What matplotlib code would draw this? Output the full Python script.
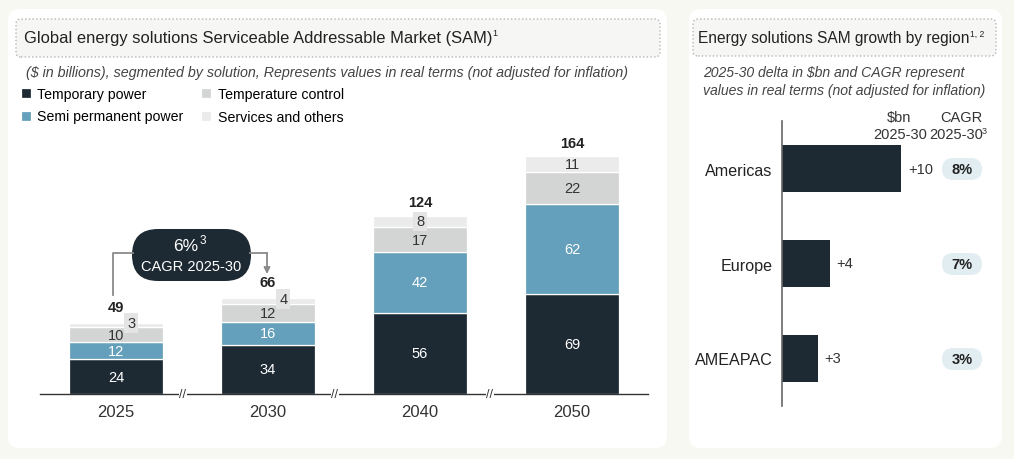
import matplotlib
matplotlib.use("Agg")
import matplotlib.pyplot as plt
from matplotlib.patches import FancyBboxPatch

plt.rcParams['font.family'] = ['Liberation Sans', 'DejaVu Sans']

# data
years = ["2025", "2030", "2040", "2050"]
temporary_power = [24, 34, 56, 69]
semi_permanent = [12, 16, 42, 62]
temperature_control = [10, 12, 17, 22]
services_others = [3, 4, 8, 11]
totals = [49, 66, 124, 164]

regions = ["Americas", "Europe", "AMEAPAC"]
delta_bn = [10, 4, 3]
cagr_region = ["8%", "7%", "3%"]

DARK = "#1e2a33"
BLUE = "#64a0bb"
GRAY = "#d3d5d5"
LIGHT = "#ebebeb"
TXT = "#222222"

W, H = 1014, 460
fig = plt.figure(figsize=(W / 100, H / 100), dpi=100)
fig.patch.set_facecolor("#f8f8f3")


def fx(x):
    return x / W


def fy(y):
    return 1 - y / H


# background layer in pixel units (y measured from top)
bg = fig.add_axes([0, 0, 1, 1], zorder=0)
bg.set_xlim(0, W)
bg.set_ylim(0, H)
bg.axis("off")


def rbox(ax, x0, y0, x1, y1, r, **kw):
    p = FancyBboxPatch((x0, H - y1), x1 - x0, y1 - y0,
                       boxstyle="round,pad=0,rounding_size=%s" % r, **kw)
    ax.add_patch(p)
    return p


rbox(bg, 8, 10, 667, 449, 12, facecolor="white", edgecolor="none")
rbox(bg, 689, 10, 1002, 449, 12, facecolor="white", edgecolor="none")
rbox(bg, 16, 20, 660, 58, 5, facecolor="#f6f6f4", edgecolor="#b5b5b5",
     linestyle=":", linewidth=1)
rbox(bg, 693, 20, 996, 57, 5, facecolor="#f6f6f4", edgecolor="#b5b5b5",
     linestyle=":", linewidth=1)

renderer = fig.canvas.get_renderer()


def title_with_sup(x, y, text, sup, size):
    t = fig.text(fx(x), fy(y), text, fontsize=size, color=TXT, va="center")
    bb = t.get_window_extent(renderer=renderer)
    fig.text(bb.x1 / W, fy(y - 5), sup, fontsize=size * 0.55,
             color=TXT, va="center")


title_with_sup(24, 39, "Global energy solutions Serviceable Addressable Market (SAM)", "1", 11.9)
title_with_sup(698, 39, "Energy solutions SAM growth by region", "1, 2", 11.2)

fig.text(fx(26), fy(73),
         "($ in billions), segmented by solution, Represents values in real terms (not adjusted for inflation)",
         fontsize=10.3, style="italic", color="#444444", va="center")
fig.text(fx(703), fy(73), "2025-30 delta in $bn and CAGR represent",
         fontsize=10.1, style="italic", color="#444444", va="center")
fig.text(fx(703), fy(91), "values in real terms (not adjusted for inflation)",
         fontsize=10.1, style="italic", color="#444444", va="center")

# ---- left chart: stacked bars
ax = fig.add_axes([fx(40), fy(395), fx(648) - fx(40), fy(130) - fy(395)], zorder=2)
ax.set_facecolor("none")
xs = list(range(len(years)))
bw = 0.62
series = [
    ("Temporary power", temporary_power, DARK, "white"),
    ("Semi permanent power", semi_permanent, BLUE, "white"),
    ("Temperature control", temperature_control, GRAY, "#333333"),
    ("Services and others", services_others, LIGHT, "#333333"),
]
bottoms = [0] * len(years)
handles = []
for k, (name, vals, col, tcol) in enumerate(series):
    b = ax.bar(xs, vals, bw, bottom=bottoms, color=col, edgecolor="white",
               linewidth=0.9, label=name)
    handles.append(b)
    for i, v in enumerate(vals):
        dx, dy = 0, 0
        box = None
        if k == 3 and v < 10:
            box = dict(boxstyle="square,pad=0.2", facecolor="#e4e4e4", edgecolor="none")
            if v < 6:
                dx, dy = 0.1, 1.5
        ax.text(i + dx, bottoms[i] + v / 2 + dy, str(v), ha="center", va="center",
                fontsize=10.5, color=tcol, bbox=box)
    bottoms = [bottoms[i] + vals[i] for i in range(len(years))]

for i, t in enumerate(totals):
    off = 6.5 if services_others[i] < 6 else 4.5
    ax.annotate(str(t), (i, bottoms[i]), xytext=(0, off), textcoords="offset points",
                ha="center", va="bottom", fontsize=10.5, fontweight="bold", color=TXT)

ax.set_xlim(-0.5, 3.5)
ax.set_ylim(0, 265 / 1.45)
ax.set_xticks(xs)
ax.set_xticklabels(years, fontsize=12, color="#333333")
ax.tick_params(axis="x", length=0, pad=7)
ax.set_yticks([])
for s in ["left", "right", "top"]:
    ax.spines[s].set_visible(False)
ax.spines["bottom"].set_color("#333333")
ax.spines["bottom"].set_linewidth(1)
for bx in [0.44, 1.44, 2.46]:
    ax.text(bx, 0, "//", ha="center", va="center", fontsize=9, color="#333333",
            bbox=dict(boxstyle="square,pad=0.05", facecolor="white", edgecolor="none"),
            clip_on=False)

fig.legend(handles=handles, loc="upper left", bbox_to_anchor=(fx(21), fy(88)),
           ncol=2, frameon=False, fontsize=10.2, handlelength=0.7, handleheight=0.7,
           handletextpad=0.45, labelspacing=0.6, columnspacing=1.25, borderaxespad=0,
           borderpad=0)

# ---- CAGR callout
fg = fig.add_axes([0, 0, 1, 1], zorder=3)
fg.set_xlim(0, W)
fg.set_ylim(0, H)
fg.axis("off")
fg.plot([133, 113, 113], [H - 254, H - 254, H - 296], color="#8a8a8a", lw=1.3)
fg.annotate("", xy=(267, H - 275), xytext=(267, H - 254),
            arrowprops=dict(arrowstyle="-|>", color="#8a8a8a", lw=1.3,
                            mutation_scale=9, shrinkA=0, shrinkB=0))
fg.plot([250, 267], [H - 254, H - 254], color="#8a8a8a", lw=1.3)
rbox(fg, 132, 230, 251, 282, 26, facecolor=DARK, edgecolor="none")
fg.text(198, H - 247, "6%", fontsize=12.5, color="white", ha="right", va="center")
fg.text(199.5, H - 241, "3", fontsize=8.5, color="white", ha="left", va="center")
fg.text(191.5, H - 267, "CAGR 2025-30", fontsize=10.5, color="white", ha="center", va="center")

# ---- right chart: horizontal bars
ax2 = fig.add_axes([fx(782), fy(407), fx(1000) - fx(782), fy(122) - fy(407)], zorder=2)
ax2.set_facecolor("none")
ys = list(range(len(regions)))
ax2.barh(ys, delta_bn, 0.5, color=DARK)
for i, v in enumerate(delta_bn):
    ax2.annotate("+%d" % v, (v, i), xytext=(5, 0), textcoords="offset points",
                 ha="left", va="center", fontsize=10.5, color="#333333")
ax2.set_xlim(0, 218 / 11.9)
ax2.set_ylim(2.5, -0.5)
ax2.set_yticks(ys)
ax2.set_yticklabels(regions, fontsize=11.6, color=TXT)
ax2.tick_params(axis="y", length=0, pad=7)
ax2.set_xticks([])
for s in ["bottom", "right", "top"]:
    ax2.spines[s].set_visible(False)
ax2.spines["left"].set_color("#666666")
ax2.spines["left"].set_linewidth(1.2)

for i, c in enumerate(cagr_region):
    y = 170 + 95 * i
    rbox(bg, 942, y - 11, 982, y + 11, 11, facecolor="#e2edf2", edgecolor="none")
    fg.text(962, H - y, c, fontsize=10.5, fontweight="bold", color=TXT,
            ha="center", va="center")

fig.text(fx(899), fy(118), "$bn", fontsize=10.5, color="#333333", ha="center", va="center")
fig.text(fx(900), fy(135), "2025-30", fontsize=10.5, color="#333333", ha="center", va="center")
fig.text(fx(961), fy(118), "CAGR", fontsize=10.5, color="#333333", ha="center", va="center")
fig.text(fx(956), fy(135), "2025-30", fontsize=10.5, color="#333333", ha="center", va="center")
fig.text(fx(982), fy(131), "3", fontsize=6.5, color="#333333", ha="left", va="center")

fig.savefig("out.png", dpi=100, facecolor=fig.get_facecolor())
